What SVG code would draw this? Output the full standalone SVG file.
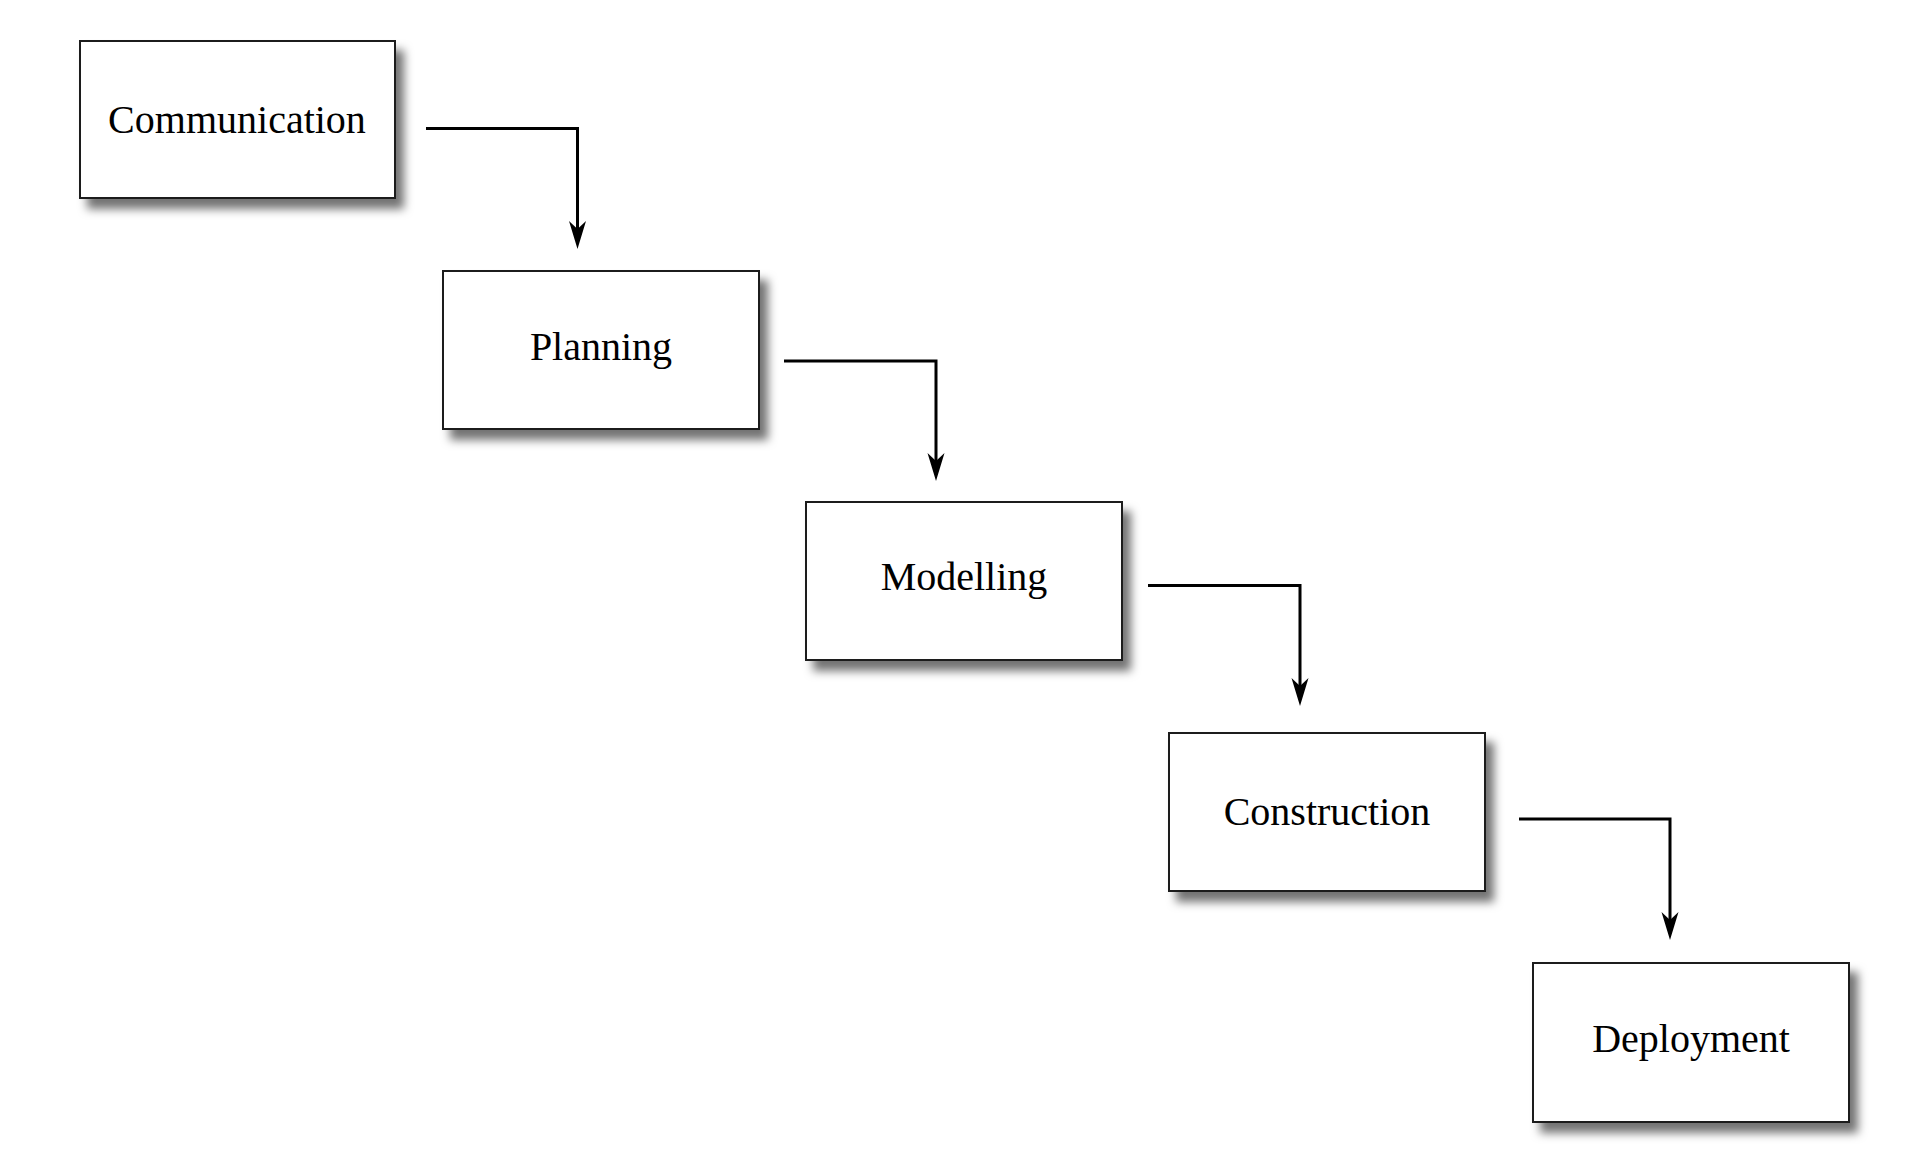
<svg xmlns="http://www.w3.org/2000/svg" width="1929" height="1162" viewBox="0 0 1929 1162">
<style>
.box{fill:#fff;stroke:#1a1a1a;stroke-width:2;filter:url(#sh)}
.lbl{font-family:"Liberation Serif","Times New Roman",serif;font-size:40px;fill:#000;text-anchor:middle}
.con{fill:none;stroke:#000;stroke-width:3}
.head{fill:#000}
</style>
<defs>
<filter id="sh" x="-10%" y="-10%" width="130%" height="140%">
<feDropShadow dx="8" dy="10" stdDeviation="5" flood-color="#000" flood-opacity="0.55"/>
</filter>
<path id="ah" d="M-8.5,-28 L0,0 L8.5,-28 L0,-20 Z"/>
</defs>
<rect width="1929" height="1162" fill="#fff"/>
<g id="connectors">
<path class="con" d="M426,128.5 H577.5 V229"/>
<use href="#ah" class="head" x="577.5" y="249"/>
<path class="con" d="M784,361 H936 V461"/>
<use href="#ah" class="head" x="936" y="481"/>
<path class="con" d="M1148,585.5 H1300 V686"/>
<use href="#ah" class="head" x="1300" y="706"/>
<path class="con" d="M1519,819 H1670 V920"/>
<use href="#ah" class="head" x="1670" y="940"/>
</g>
<g id="communication">
<rect class="box" x="80" y="41" width="315" height="157"/>
<text class="lbl" x="237" y="133">Communication</text>
</g>
<g id="planning">
<rect class="box" x="443" y="271" width="316" height="158"/>
<text class="lbl" x="601" y="360">Planning</text>
</g>
<g id="modelling">
<rect class="box" x="806" y="502" width="316" height="158"/>
<text class="lbl" x="964" y="590">Modelling</text>
</g>
<g id="construction">
<rect class="box" x="1169" y="733" width="316" height="158"/>
<text class="lbl" x="1327" y="825">Construction</text>
</g>
<g id="deployment">
<rect class="box" x="1533" y="963" width="316" height="159"/>
<text class="lbl" x="1691" y="1052">Deployment</text>
</g>
</svg>
